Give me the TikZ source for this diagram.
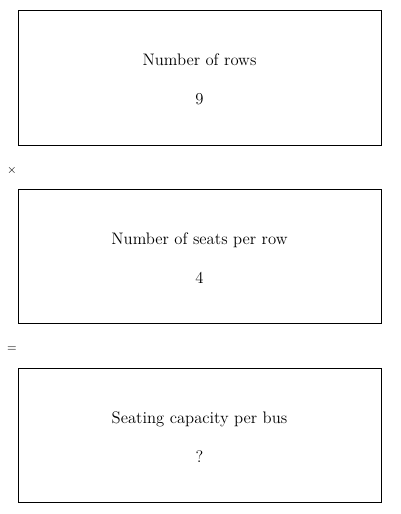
\documentclass[tikz,border=0pt]{standalone}
\begin{document}
\begin{tikzpicture}[x=0.75pt,y=-0.75pt,
  box/.style={draw=black,line width=0.75pt},
  txt/.style={font=\fontsize{12.5}{15}\selectfont,inner sep=0pt,anchor=base},
  op/.style={font=\fontsize{9}{11}\selectfont,inner sep=0pt}]
\useasboundingbox (0,0) rectangle (400,514);
\draw[box] (18,10) rectangle (381,145);
\draw[box] (18,189) rectangle (381,323);
\draw[box] (18,368) rectangle (381,502);
\node[txt] (l1) at (199.5,65) {Number of rows};
\node[txt] (v1) at (199.5,104) {9};
\node[op] (times) at (12,170) {$\times$};
\node[op] (eq) at (12,349) {$=$};
\node[txt] (l2) at (199.5,244) {Number of seats per row};
\node[txt] (v2) at (199.5,283) {4};
\node[txt] (l3) at (199.5,423) {Seating capacity per bus};
\node[txt] (v3) at (199.5,462) {?};
\end{tikzpicture}
\end{document}
